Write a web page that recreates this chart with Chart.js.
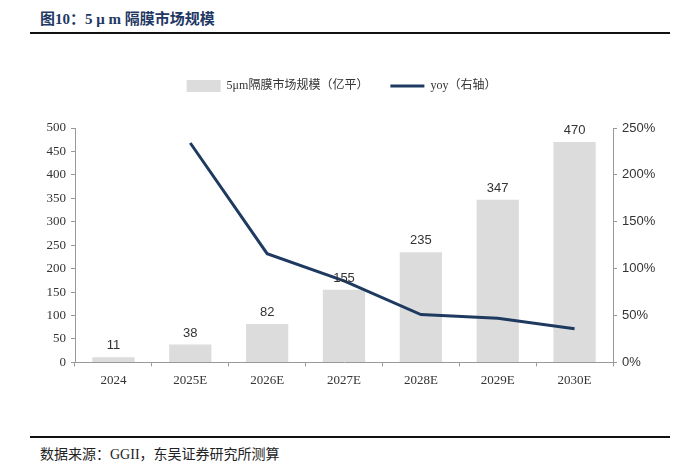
<!DOCTYPE html>
<html>
<head>
<meta charset="utf-8">
<script src="https://cdn.jsdelivr.net/npm/chart.js@4/dist/chart.umd.min.js"></script>
<style>
  body { margin: 0; width: 683px; height: 470px; background: #fff; position: relative; overflow: hidden; }
  .title { position: absolute; left: 40px; top: 7px; font: bold 15px "Liberation Serif", "Noto Sans CJK SC"; color: #1f3864; }
  .rule1 { position: absolute; left: 30px; width: 640px; top: 32px; height: 2px; background: #111; }
  .rule2 { position: absolute; left: 30px; width: 640px; top: 436px; height: 1.5px; background: #111; }
  .source { position: absolute; left: 40px; top: 443px; font: 14px "Liberation Serif", "Noto Sans CJK SC"; color: #222; }
  #wrap { position: absolute; left: 0; top: 40px; width: 683px; height: 390px; }
</style>
</head>
<body>
<div class="title">图10：5 μ m 隔膜市场规模</div>
<div class="rule1"></div>
<div id="wrap"><canvas id="marketChart"></canvas></div>
<div class="rule2"></div>
<div class="source">数据来源：GGII，东吴证券研究所测算</div>
<script>
const years = ['2024', '2025E', '2026E', '2027E', '2028E', '2029E', '2030E'];
const market = [11, 38, 82, 155, 235, 347, 470];
const yoy = [null, 2.34, 1.16, 0.87, 0.51, 0.47, 0.36];

const serif = '"Liberation Serif", "Noto Sans CJK SC"';
const sans = '"Liberation Sans", Arial';

// value labels above the bars
const barLabels = {
  id: 'barLabels',
  afterDatasetsDraw(chart) {
    const ctx = chart.ctx;
    const meta = chart.getDatasetMeta(0);
    ctx.save();
    ctx.font = '13px ' + sans;
    ctx.fillStyle = '#333';
    ctx.textAlign = 'center';
    ctx.textBaseline = 'bottom';
    meta.data.forEach(function(bar, i) {
      ctx.fillText(market[i], bar.x, bar.y - 5);
    });
    ctx.restore();
  }
};

// extra room under the legend
const legendGap = {
  id: 'legendGap',
  beforeInit(chart) {
    const fit = chart.legend.fit;
    chart.legend.fit = function() {
      fit.bind(chart.legend)();
      this.height += 26;
    };
  }
};

const data = {
  labels: years,
  datasets: [{
    type: 'bar',
    label: '5μm隔膜市场规模（亿平）',
    data: market,
    backgroundColor: '#dcdcdc',
    borderWidth: 0,
    categoryPercentage: 1,
    barPercentage: 0.55,
    yAxisID: 'y',
    order: 2
  }, {
    type: 'line',
    label: 'yoy（右轴）',
    data: yoy,
    borderColor: '#1f3a60',
    backgroundColor: '#1f3a60',
    borderWidth: 3,
    pointRadius: 0,
    tension: 0,
    yAxisID: 'y1',
    order: 1
  }]
};

const config = {
  type: 'bar',
  data: data,
  options: {
    responsive: true,
    maintainAspectRatio: false,
    animation: false,
    layout: { padding: { top: 18, bottom: 36 } },
    plugins: {
      tooltip: { enabled: false },
      legend: {
        position: 'top',
        labels: {
          font: { family: serif, size: 12 },
          color: '#333',
          usePointStyle: true,
          pointStyleWidth: 34,
          boxHeight: 12,
          padding: 22,
          sort: function(a, b) { return a.datasetIndex - b.datasetIndex; },
          generateLabels: function(chart) {
            const items = Chart.defaults.plugins.legend.labels.generateLabels(chart);
            items.forEach(function(it) {
              if (it.datasetIndex === 0) {
                it.pointStyle = 'rect';
                it.lineWidth = 0;
              } else {
                it.pointStyle = 'line';
                it.lineWidth = 3;
                it.strokeStyle = '#1f3a60';
              }
            });
            return items;
          }
        }
      }
    },
    scales: {
      x: {
        grid: { drawOnChartArea: false, color: '#999', tickLength: 4 },
        border: { color: '#999' },
        ticks: { font: { family: serif, size: 13 }, color: '#333', padding: 6 }
      },
      y: {
        position: 'left',
        min: 0,
        max: 500,
        afterFit: function(scale) { scale.width = 75; },
        grid: { drawOnChartArea: false, color: '#999', tickLength: 4 },
        border: { color: '#999' },
        ticks: { stepSize: 50, font: { family: serif, size: 13 }, color: '#333', padding: 5 }
      },
      y1: {
        position: 'right',
        min: 0,
        max: 2.5,
        afterFit: function(scale) { scale.width = 70; },
        grid: { drawOnChartArea: false, color: '#999', tickLength: 4 },
        border: { color: '#999' },
        ticks: {
          stepSize: 0.5,
          font: { family: sans, size: 13 },
          color: '#333',
          padding: 5,
          callback: function(v) { return Math.round(v * 100) + '%'; }
        }
      }
    }
  },
  plugins: [barLabels, legendGap]
};

var ctx = document.getElementById('marketChart');
var myChart = new Chart(ctx, config);
</script>
</body>
</html>
